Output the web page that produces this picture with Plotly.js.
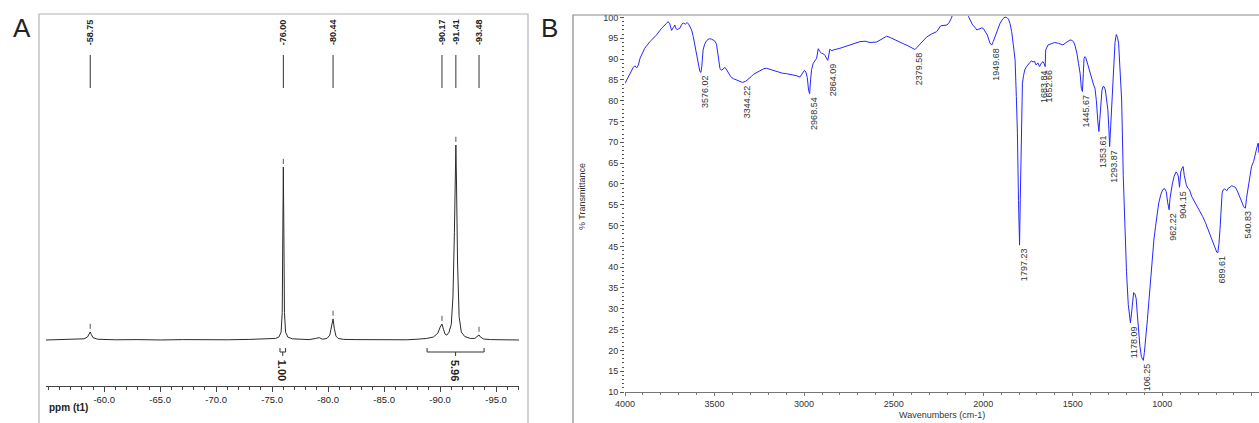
<!DOCTYPE html>
<html><head><meta charset="utf-8">
<script src="https://cdn.plot.ly/plotly-3.0.1.min.js"></script>
<style>html,body{margin:0;padding:0;background:#fff;} #chart{width:1259px;height:423px;}</style>
</head><body><div id="chart"></div>
<script>
// ---------- Panel A : NMR spectrum ----------
const nmrShift = [-54.8,-56.0,-57.2,-58.2,-58.5,-58.65,-58.75,-58.85,-59.0,-59.4,-61.0,-63.0,-65.0,-67.0,-69.0,-71.0,-73.0,-74.5,-75.3,-75.6,-75.8,-75.9,-75.96,-76.0,-76.04,-76.1,-76.2,-76.4,-76.8,-77.5,-78.3,-78.9,-79.2,-79.5,-79.9,-80.15,-80.3,-80.44,-80.55,-80.7,-80.9,-81.4,-82.5,-84.0,-85.5,-87.0,-88.0,-88.8,-89.4,-89.8,-90.0,-90.17,-90.3,-90.45,-90.6,-90.8,-91.0,-91.15,-91.28,-91.36,-91.41,-91.47,-91.56,-91.7,-91.9,-92.2,-92.7,-93.1,-93.35,-93.48,-93.6,-93.9,-94.5,-95.5,-96.3,-97.05];
const nmrIntensity = [0,0.1,0.3,0.6,1.5,3.0,4.1,2.8,1.2,0.4,0.1,0.2,0,0.2,0,0.1,0.3,0.4,0.8,1.5,4,14,60,88.7,60,14,4,1.5,0.6,0.3,0.2,0.8,1.2,0.4,0.8,2.5,6,10.8,6,2,0.8,0.3,0.2,0.1,0.3,0.1,0.4,0.8,1.5,3.5,6.5,8.2,5.5,3.0,2.5,4.0,8,22,55,85,100,80,40,12,4,1.8,0.8,0.8,1.8,2.6,1.5,0.5,0.2,0.1,0.2,0];
const nmrPeakPositions = [-58.75,-76.00,-80.44,-90.17,-91.41,-93.48];
const nmrPeakLabels = ['-58.75','-76.00','-80.44','-90.17','-91.41','-93.48'];
const nmrPeakHeights = [4.1,88.7,10.8,8.2,100,2.6];
const nmrTickVals = [-60,-65,-70,-75,-80,-85,-90,-95];
const nmrTickText = ['-60.0','-65.0','-70.0','-75.0','-80.0','-85.0','-90.0','-95.0'];
const integralFrom = [-75.7,-88.84];
const integralTo = [-76.2,-93.93];
const integralLabels = ['1.00','5.96'];

// ---------- Panel B : FTIR spectrum ----------
const irWavenumber = [4000,3985,3963,3954,3945,3935,3925,3916,3890,3861,3824,3796,3768,3759,3750,3740,3730,3722,3715,3709,3700,3694,3685,3675,3663,3653,3645,3638,3628,3619,3610,3601,3590,3582,3576,3571,3564,3555,3545,3530,3517,3500,3489,3480,3470,3461,3450,3442,3432,3424,3410,3395,3377,3360,3344,3325,3312,3295,3284,3265,3247,3225,3210,3195,3172,3144,3120,3098,3070,3042,3023,3015,3008,2998,2990,2982,2975,2969,2964,2958,2949,2940,2930,2921,2912,2902,2890,2884,2876,2868,2862,2856,2845,2837,2800,2763,2720,2688,2660,2632,2595,2570,2539,2520,2502,2475,2446,2420,2400,2381,2370,2363,2344,2316,2290,2260,2237,2215,2202,2190,2178,2165,2100,2083,2070,2059,2045,2036,2024,2008,2000,1990,1977,1962,1952,1944,1934,1920,1906,1890,1878,1868,1859,1850,1841,1832,1822,1815,1809,1803,1797,1793,1789,1785,1781,1775,1768,1758,1750,1740,1731,1722,1713,1708,1704,1695,1685,1676,1666,1660,1654,1651,1645,1638,1620,1601,1580,1565,1555,1540,1525,1515,1505,1496,1487,1477,1468,1459,1452,1446,1441,1437,1432,1428,1420,1413,1404,1395,1385,1376,1368,1360,1354,1349,1344,1337,1331,1324,1318,1311,1304,1298,1294,1288,1281,1276,1271,1264,1257,1250,1244,1236,1227,1218,1210,1200,1190,1183,1178,1173,1167,1160,1153,1146,1140,1133,1125,1117,1110,1106,1100,1092,1083,1074,1065,1056,1047,1038,1029,1020,1008,998,988,978,970,962,957,951,944,934,923,916,910,904,901,897,890,884,877,872,866,858,848,836,820,805,790,775,760,743,730,715,705,696,690,684,678,672,666,660,652,640,631,622,612,604,592,581,570,562,556,548,542,536,530,520,511,502,490,479,472,466,463,461];
const irTransmittance = [84.2,85.5,87.4,88.0,88.4,87.9,88.6,90.2,92.6,94.2,95.8,97.4,98.6,99.0,98.5,96.9,97.6,98.2,97.3,97.1,97.3,97.4,98.2,98.7,98.4,98.8,98.4,97.9,97.0,95.4,93.4,91.4,88.5,87.0,86.8,88.3,92.2,93.6,94.4,94.9,94.8,94.4,93.6,91.0,87.8,87.3,87.6,88.0,87.4,86.8,85.8,85.3,85.0,84.6,84.4,84.7,85.1,85.8,86.3,86.8,87.2,87.7,87.8,87.6,87.3,86.8,86.6,86.5,86.3,86.0,85.7,86.3,86.9,87.3,86.9,85.5,82.5,81.7,85.0,87.5,89.0,89.6,90.2,92.5,91.8,91.4,91.2,90.9,90.2,89.7,91.0,92.4,92.0,92.2,92.6,93.1,93.7,94.2,94.3,94.0,94.1,94.8,95.5,95.2,94.8,94.3,93.7,93.2,92.7,92.3,92.8,93.1,93.9,95.3,96.0,96.6,98.0,98.2,98.2,98.8,99.8,101.5,101.5,100.3,99.0,98.2,97.6,97.0,97.2,97.5,97.4,96.6,95.8,93.8,93.4,94.2,95.4,97.2,98.6,99.7,100.1,100.0,99.6,98.5,96.6,93.5,89.8,81.0,72.2,56.0,45.3,56.2,68.2,78.0,84.2,86.0,87.4,88.2,88.6,89.3,89.6,89.3,89.5,88.8,88.6,89.1,88.2,89.0,89.4,88.9,88.2,92.2,92.8,93.4,93.7,94.0,93.8,93.6,93.4,93.9,94.4,94.6,94.5,94.2,93.2,91.4,89.0,86.6,83.0,82.2,86.5,90.2,90.6,90.4,89.3,88.2,86.8,85.0,84.0,83.0,80.0,75.0,72.6,75.5,79.7,82.5,83.4,83.3,82.6,80.5,77.8,73.0,69.0,74.0,80.2,85.0,89.8,94.0,95.9,95.2,93.8,87.0,80.2,62.0,50.0,39.0,31.0,27.5,26.6,28.5,31.5,33.9,33.6,32.5,29.0,25.0,21.0,18.5,17.7,17.6,19.5,22.8,27.5,32.3,37.5,42.5,46.5,49.7,52.8,55.4,57.5,58.6,58.9,58.2,55.5,53.8,56.5,58.6,60.0,61.8,62.9,62.5,61.7,59.2,61.5,62.9,63.8,64.2,62.0,60.5,59.8,59.0,58.6,57.0,55.8,54.6,53.4,52.2,50.8,49.0,47.5,45.8,44.5,43.6,43.5,45.5,49.0,54.0,57.8,58.6,58.8,58.4,59.0,59.2,59.6,59.4,59.2,58.3,57.0,56.0,55.4,54.8,54.3,54.2,56.5,59.4,62.0,64.2,65.4,67.2,69.0,69.8,69.6,67.5,65.8];
const irPeakPositions = [3576.02,3344.22,2968.54,2864.09,2379.58,1949.68,1797.23,1683.84,1652.66,1445.67,1353.61,1293.87,1178.09,1106.25,962.22,904.15,689.61,540.83];
const irPeakLabels = ['3576.02','3344.22','2968.54','2864.09','2379.58','1949.68','1797.23','1683.84','1652.66','1445.67','1353.61','1293.87','1178.09','106.25','962.22','904.15','689.61','540.83'];
const irPeakTransmittance = [87.0,84.4,81.7,89.7,92.3,93.4,45.3,88.2,88.2,82.2,72.6,69.0,26.6,17.7,53.8,59.2,43.5,54.2];
const irTickVals = [4000,3500,3000,2500,2000,1500,1000,500];
const irYTickVals = [10,15,20,25,30,35,40,45,50,55,60,65,70,75,80,85,90,95,100];

// ---------- geometry helpers (pixels -> paper) ----------
const W = 1259, H = 423;
const px = p => p / W;
const py = p => 1 - p / H;
const FONT = 'Liberation Sans, Arial, sans-serif';

const traces = [
  {x: nmrShift, y: nmrIntensity, xaxis: 'x', yaxis: 'y', type: 'scatter', mode: 'lines',
   line: {color: '#2b2b2b', width: 1}, hoverinfo: 'skip'},
  {x: irWavenumber, y: irTransmittance, xaxis: 'x2', yaxis: 'y2', type: 'scatter', mode: 'lines',
   line: {color: '#2626ff', width: 1}, hoverinfo: 'skip'}
];

const shapes = [];
const annotations = [];

// panel frames
shapes.push({type: 'rect', xref: 'paper', yref: 'paper', x0: px(39), x1: px(528), y0: py(440), y1: py(14),
  line: {color: '#b4b4b4', width: 1.2}, fillcolor: 'rgba(0,0,0,0)'});
shapes.push({type: 'rect', xref: 'paper', yref: 'paper', x0: px(573), x1: px(1275), y0: py(440), y1: py(15),
  line: {color: '#8a8a8a', width: 1.2}, fillcolor: 'rgba(0,0,0,0)'});

// NMR peak pick lines, labels and top dashes
nmrPeakPositions.forEach((p, i) => {
  shapes.push({type: 'line', xref: 'x', yref: 'paper', x0: p, x1: p, y0: py(88), y1: py(55),
    line: {color: '#333', width: 1}});
  shapes.push({type: 'line', xref: 'x', yref: 'y', x0: p, x1: p,
    y0: nmrPeakHeights[i] + 1.6, y1: nmrPeakHeights[i] + 4.2, line: {color: '#555', width: 1}});
  annotations.push({x: p, xref: 'x', y: py(17), yref: 'paper', text: '<b>' + nmrPeakLabels[i] + '</b>',
    textangle: -90, showarrow: false, xanchor: 'center', yanchor: 'top',
    font: {family: FONT, size: 9, color: '#222'}});
});

// integrals
integralFrom.forEach((a, i) => {
  const b = integralTo[i];
  const m = (a + b) / 2;
  shapes.push({type: 'path', xref: 'x', yref: 'paper',
    path: `M ${a},${py(348)} L ${a},${py(352)} L ${b},${py(352)} L ${b},${py(348)}`,
    line: {color: '#333', width: 1}});
  shapes.push({type: 'line', xref: 'x', yref: 'paper', x0: m, x1: m, y0: py(352), y1: py(356),
    line: {color: '#333', width: 1}});
  annotations.push({x: m, xref: 'x', y: py(358), yref: 'paper', text: '<b>' + integralLabels[i] + '</b>',
    textangle: 90, showarrow: false, xanchor: 'center', yanchor: 'top',
    font: {family: FONT, size: 11, color: '#222'}});
});

// IR peak labels
irPeakPositions.forEach((p, i) => {
  annotations.push({x: p, xref: 'x2', y: irPeakTransmittance[i], yref: 'y2', yshift: -1,
    xshift: 4, text: irPeakLabels[i], textangle: -90, showarrow: false,
    xanchor: 'center', yanchor: 'top', font: {family: FONT, size: 9, color: '#333'}});
});

// panel letters and axis titles
annotations.push({x: px(22), y: py(28), xref: 'paper', yref: 'paper', text: 'A', showarrow: false,
  xanchor: 'center', yanchor: 'middle', font: {family: FONT, size: 26, color: '#222'}});
annotations.push({x: px(549), y: py(28), xref: 'paper', yref: 'paper', text: 'B', showarrow: false,
  xanchor: 'center', yanchor: 'middle', font: {family: FONT, size: 26, color: '#222'}});
annotations.push({x: px(47), y: py(407), xref: 'paper', yref: 'paper', text: '<b>ppm (t1)</b>', showarrow: false,
  xanchor: 'left', yanchor: 'middle', font: {family: FONT, size: 10, color: '#222'}});
annotations.push({x: px(582), y: py(197), xref: 'paper', yref: 'paper', text: '% Transmittance', showarrow: false,
  textangle: -90, xanchor: 'center', yanchor: 'middle', font: {family: FONT, size: 9, color: '#333'}});
annotations.push({x: px(942), y: py(415), xref: 'paper', yref: 'paper', text: 'Wavenumbers (cm-1)', showarrow: false,
  xanchor: 'center', yanchor: 'middle', font: {family: FONT, size: 9, color: '#333'}});

const layout = {
  width: W, height: H,
  margin: {l: 0, r: 0, t: 0, b: 0},
  paper_bgcolor: '#fff', plot_bgcolor: 'rgba(0,0,0,0)',
  showlegend: false,
  font: {family: FONT, color: '#333'},
  xaxis: {domain: [px(46), px(519)], range: [-54.8, -97.05], anchor: 'y',
    showgrid: false, zeroline: false, showline: true, linecolor: '#444', linewidth: 1,
    ticks: 'outside', ticklen: 5, tickcolor: '#444', tickmode: 'array',
    tickvals: nmrTickVals, ticktext: nmrTickText,
    tickfont: {family: FONT, size: 9.5, color: '#222'},
    minor: {dtick: 1, tick0: 0, ticks: 'outside', ticklen: 3, tickcolor: '#444', showgrid: false}},
  yaxis: {domain: [py(386), py(14)], range: [-23.6, 167.2], anchor: 'x', visible: false},
  xaxis2: {domain: [px(625), 1], range: [4000, 460.1], anchor: 'y2',
    showgrid: false, zeroline: false, showline: true, linecolor: '#777', linewidth: 1,
    ticks: 'outside', ticklen: 3, tickcolor: '#777', tickmode: 'array', tickvals: irTickVals,
    tickfont: {family: FONT, size: 9, color: '#333'},
    minor: {dtick: 100, tick0: 0, ticks: 'outside', ticklen: 2, tickcolor: '#777', showgrid: false}},
  yaxis2: {domain: [py(392), py(16)], range: [10, 100.36], anchor: 'x2',
    showgrid: false, zeroline: false, showline: false,
    ticks: 'outside', ticklen: 4, tickcolor: '#555', tickmode: 'array', tickvals: irYTickVals,
    tickfont: {family: FONT, size: 9, color: '#333'},
    minor: {dtick: 1, tick0: 0, ticks: 'outside', ticklen: 2, tickcolor: '#555', showgrid: false}},
  shapes: shapes,
  annotations: annotations
};

Plotly.newPlot('chart', traces, layout, {staticPlot: true, displayModeBar: false});
</script>
</body></html>
